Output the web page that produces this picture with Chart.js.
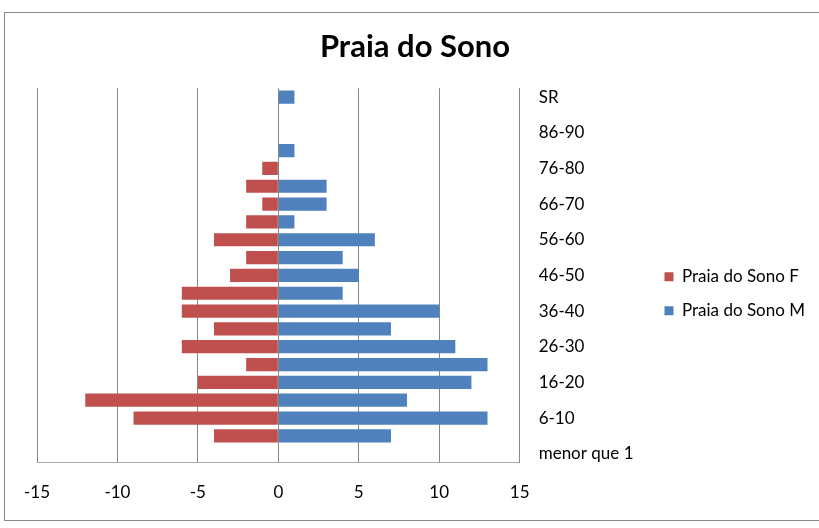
<!DOCTYPE html>
<html>
<head>
<meta charset="utf-8">
<script src="https://cdn.jsdelivr.net/npm/chart.js@4"></script>
<style>
  html, body { margin: 0; padding: 0; background: #fff; }
  #frame { position: absolute; left: 4px; top: 12px; width: 840px; height: 507px; border: 1px solid #878787; }
  #wrap { position: absolute; left: 0; top: 0; width: 819px; height: 528px; }
</style>
</head>
<body>
<div id="frame"></div>
<div id="wrap"><canvas id="myChart"></canvas></div>
<script>
// age groups, bottom to top
const ageGroups = ['menor que 1', '1-5', '6-10', '11-15', '16-20', '21-25', '26-30', '31-35', '36-40', '41-45',
  '46-50', '51-55', '56-60', '61-65', '66-70', '71-75', '76-80', '81-85', '86-90', '91 e mais', 'SR'];
const female = [0, -4, -9, -12, -5, -2, -6, -4, -6, -6, -3, -2, -4, -2, -1, -2, -1, 0, 0, 0, 0];
const male = [0, 7, 13, 8, 12, 13, 11, 7, 10, 4, 5, 4, 6, 1, 3, 3, 0, 1, 0, 0, 1];
const xTicks = [-15, -10, -5, 0, 5, 10, 15];

const font = 'Lato, "Open Sans", sans-serif';

// title in the reference sits a bit left of the canvas centre
const shiftTitle = {
    id: 'shiftTitle',
    afterLayout: (chart) => { chart.titleBlock.right -= 22; }
};

const ctx = document.getElementById('myChart').getContext('2d');
new Chart(ctx, {
    type: 'bar',
    data: {
        labels: ageGroups,
        datasets: [
            {
                label: 'Praia do Sono F',
                data: female,
                backgroundColor: '#C0504D',
                barPercentage: 0.74,
                categoryPercentage: 1
            },
            {
                label: 'Praia do Sono M',
                data: male,
                backgroundColor: '#4F81BD',
                barPercentage: 0.74,
                categoryPercentage: 1
            }
        ]
    },
    options: {
        indexAxis: 'y',
        responsive: true,
        maintainAspectRatio: false,
        animation: false,
        layout: { padding: { left: 37, right: 4, top: 28, bottom: 5 } },
        plugins: {
            title: {
                display: true,
                text: 'Praia do Sono',
                color: '#000',
                font: { family: font, size: 31, weight: 'bold' },
                padding: { top: 0, bottom: 23 }
            },
            legend: {
                position: 'right',
                title: { display: true, text: ' ', font: { size: 17 }, padding: { top: 16, bottom: 0 } },
                labels: {
                    color: '#000',
                    boxWidth: 9,
                    boxHeight: 9,
                    padding: 17,
                    font: { family: font, size: 17 }
                }
            },
            tooltip: { enabled: false }
        },
        scales: {
            x: {
                stacked: true,
                min: -15,
                max: 15,
                afterBuildTicks: (axis) => { axis.ticks = xTicks.map(v => ({ value: v })); },
                ticks: { color: '#000', padding: 20, font: { family: font, size: 17 } },
                grid: { color: '#868686', drawTicks: false },
                border: { color: '#AAAAAA' }
            },
            y: {
                stacked: true,
                reverse: true,
                position: 'right',
                afterFit: (scale) => { scale.width += 3; },
                ticks: {
                    autoSkip: false,
                    color: '#000',
                    padding: 11,
                    font: { family: font, size: 17 },
                    callback: function (val, i) { return i % 2 === 0 ? this.getLabelForValue(val) : ''; }
                },
                grid: { display: false },
                border: { color: '#868686' }
            }
        }
    },
    plugins: [shiftTitle]
});
</script>
</body>
</html>
